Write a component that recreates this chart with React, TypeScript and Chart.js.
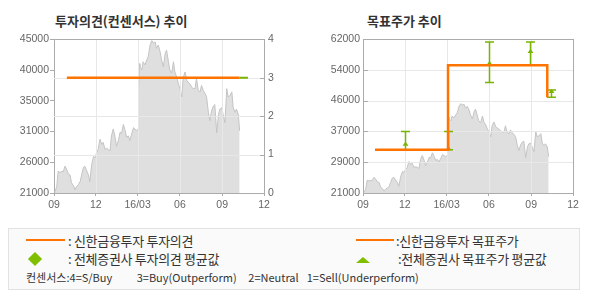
import React, { useEffect, useRef } from 'react';
import { Chart, registerables } from 'chart.js';

Chart.register(...registerables);

// ---- data ----
const monthTickDays = [0, 91, 182, 274, 366, 457];
const monthTickLabels = ['09', '12', '16/03', '06', '09', '12'];

const priceDays = [
  2, 6, 9, 13, 17, 20, 24, 28, 31, 35, 38, 42, 46, 49, 53, 57, 60, 64, 67, 71,
  75, 78, 82, 86, 89, 93, 96, 100, 104, 107, 111, 115, 118, 122, 125, 129, 133, 136, 140, 144,
  147, 151, 155, 158, 162, 165, 169, 173, 176, 180, 183, 184, 186, 187, 191, 194, 198, 202, 205, 209,
  213, 216, 220, 223, 227, 231, 234, 238, 242, 245, 249, 252, 256, 260, 263, 267, 271, 274, 278, 281,
  285, 289, 292, 296, 300, 303, 307, 310, 314, 318, 321, 325, 329, 332, 336, 339, 343, 347, 350, 354,
  358, 361, 365, 368, 372, 376, 379, 383, 387, 390, 394, 397, 401, 404,
];
const priceValues = [
  21200, 22000, 24400, 24200, 24400, 24300, 25200, 24600, 24000, 23800, 22600, 22200, 21500, 22000, 22300, 22800, 23800, 25000, 25200, 24500,
  23800, 22800, 25400, 26700, 26500, 27300, 27800, 29400, 28600, 28900, 27800, 28000, 27800, 27600, 29900, 31000, 29700, 28300, 29200, 30500,
  30300, 31700, 30700, 29700, 29900, 29200, 30200, 31200, 31000, 30700, 31000, 37000, 41200, 40700, 40200, 41500, 41000, 41800, 42300, 44100,
  44800, 44400, 44600, 43600, 44100, 43000, 41800, 40700, 42800, 43300, 41500, 40200, 39700, 41500, 39900, 39100, 38000, 37300, 36000, 38900,
  39900, 38600, 38300, 38000, 37500, 37300, 37300, 38900, 37000, 36800, 37800, 37000, 36500, 36000, 33600, 32300, 33800, 34600, 34800, 30400,
  33300, 34100, 34300, 33300, 32000, 37300, 36000, 36200, 36800, 34300, 33600, 34100, 33300, 30700,
];

const opinionDays = [28, 403];
const opinionValues = [3, 3];
const avgOpinionDays = [403, 422];
const avgOpinionValues = [3, 3];

const targetDays = [26, 185, 401];
const targetValues = [32500, 55000, 46500];

const consDays = [91, 184, 274, 363, 410];
const consHigh = [37400, 37400, 61200, 61200, 48400];
const consLow = [32500, 32500, 50400, 55000, 46500];
const consAvg = [34000, 32800, 55500, 58700, 48000];

const leftPriceTicks = [21000, 25800, 30600, 35400, 40200, 45000];
const leftPriceLabels = ['21000', '26000', '31000', '35000', '40000', '45000'];
const opinionTicks = [0, 1, 2, 3, 4];
const opinionLabels = ['0', '1', '2', '3', '4'];
const rightPriceTicks = [21000, 29200, 37400, 45600, 53800, 62000];
const rightPriceLabels = ['21000', '29000', '37000', '46000', '54000', '62000'];

// ---- styles ----
const ORANGE = '#ff7400';
const GREEN = '#78b400';
const AXIS = '#ababab';
const GRID = '#e8e8e8';
const TICK_FONT = { family: "'Liberation Sans', Arial, sans-serif", size: 10.5 };
const TICK_COLOR = '#666';
const KFONT = "'Noto Sans CJK KR', 'Noto Sans', sans-serif";

const overlayPlugin = {
  id: 'overlay',
  afterDatasetDraw(chart: any, args: any, opts: any) {
    if (args.index !== opts.areaIndex) return;
    const ctx = chart.ctx;
    const a = chart.chartArea;
    const xs = chart.scales.x;
    const gs = chart.scales[opts.gridAxis];
    ctx.save();
    ctx.strokeStyle = GRID;
    ctx.lineWidth = 1;
    ctx.beginPath();
    xs.ticks.forEach((t: any) => {
      const px = Math.round(xs.getPixelForValue(t.value)) + 0.5;
      if (px > a.left + 2 && px < a.right - 2) {
        ctx.moveTo(px, a.top);
        ctx.lineTo(px, a.bottom);
      }
    });
    gs.ticks.forEach((t: any) => {
      const py = Math.round(gs.getPixelForValue(t.value)) + 0.5;
      if (py > a.top + 2 && py < a.bottom - 2) {
        ctx.moveTo(a.left, py);
        ctx.lineTo(a.right, py);
      }
    });
    ctx.stroke();

    if (opts.errorBars) {
      const ys = chart.scales.y;
      ctx.strokeStyle = GREEN;
      ctx.fillStyle = GREEN;
      ctx.lineWidth = 1.5;
      consDays.forEach((d, i) => {
        const px = Math.round(xs.getPixelForValue(d)) + 0.5;
        const yh = ys.getPixelForValue(consHigh[i]);
        const yl = ys.getPixelForValue(consLow[i]);
        const ya = ys.getPixelForValue(consAvg[i]);
        ctx.beginPath();
        ctx.moveTo(px, yh);
        ctx.lineTo(px, yl);
        ctx.moveTo(px - 4.5, yh);
        ctx.lineTo(px + 4.5, yh);
        ctx.moveTo(px - 4.5, yl);
        ctx.lineTo(px + 4.5, yl);
        ctx.stroke();
        ctx.beginPath();
        ctx.moveTo(px, ya - 2.5);
        ctx.lineTo(px + 3, ya + 1.5);
        ctx.lineTo(px - 3, ya + 1.5);
        ctx.closePath();
        ctx.fill();
      });
    }
    ctx.restore();
  },
  afterDraw(chart: any, _args: any, opts: any) {
    const ctx = chart.ctx;
    const a = chart.chartArea;
    ctx.save();
    ctx.strokeStyle = AXIS;
    ctx.lineWidth = 1;
    ctx.beginPath();
    ctx.moveTo(a.left, Math.round(a.top) + 0.5);
    ctx.lineTo(a.right + 1, Math.round(a.top) + 0.5);
    if (opts.rightBorder) {
      ctx.moveTo(Math.round(a.right) + 0.5, a.top);
      ctx.lineTo(Math.round(a.right) + 0.5, a.bottom);
    }
    const ts = chart.scales[opts.gridAxis];
    ts.ticks.forEach((t: any) => {
      const py = Math.round(ts.getPixelForValue(t.value)) + 0.5;
      if (opts.innerTickSide === 'right') {
        ctx.moveTo(a.right - 4, py);
        ctx.lineTo(a.right, py);
      } else {
        ctx.moveTo(a.left, py);
        ctx.lineTo(a.left + 5, py);
      }
    });
    ctx.stroke();
    ctx.restore();
  },
};

function xScale() {
  return {
    type: 'linear',
    min: monthTickDays[0],
    max: monthTickDays[monthTickDays.length - 1],
    afterBuildTicks: (s: any) => {
      s.ticks = monthTickDays.map((v) => ({ value: v }));
    },
    afterFit: (s: any) => {
      s.height = 21;
    },
    ticks: {
      autoSkip: false,
      maxRotation: 0,
      padding: 3,
      font: TICK_FONT,
      color: TICK_COLOR,
      callback: (_v: any, i: number) => monthTickLabels[i],
    },
    grid: { drawOnChartArea: false, drawTicks: true, tickLength: 3, tickColor: AXIS },
    border: { color: AXIS },
  };
}

function toPoints(xs: number[], ys: number[]) {
  return xs.map((x, i) => ({ x, y: ys[i] }));
}

export default function App() {
  const leftRef = useRef<HTMLCanvasElement | null>(null);
  const rightRef = useRef<HTMLCanvasElement | null>(null);

  useEffect(() => {
    const left = new Chart(leftRef.current as HTMLCanvasElement, {
      type: 'line',
      data: {
        datasets: [
          {
            data: toPoints(opinionDays, opinionValues),
            yAxisID: 'y1',
            borderColor: ORANGE,
            borderWidth: 2.5,
            pointRadius: 0,
            fill: false,
          },
          {
            data: toPoints(avgOpinionDays, avgOpinionValues),
            yAxisID: 'y1',
            borderColor: GREEN,
            borderWidth: 2,
            pointRadius: 0,
            fill: false,
          },
          {
            data: toPoints(priceDays, priceValues),
            yAxisID: 'y',
            borderColor: '#c4c4c4',
            borderWidth: 1,
            backgroundColor: '#dfdfdf',
            fill: 'start',
            pointRadius: 0,
            tension: 0,
          },
        ],
      } as any,
      options: {
        animation: false,
        responsive: false,
        devicePixelRatio: 1,
        layout: { padding: { top: 10, left: 0, right: 0, bottom: 0 } },
        plugins: {
          legend: { display: false },
          tooltip: { enabled: false },
          overlay: { areaIndex: 2, gridAxis: 'y1', errorBars: false, rightBorder: false, innerTickSide: 'right' },
        } as any,
        scales: {
          x: xScale(),
          y: {
            type: 'linear',
            position: 'left',
            min: leftPriceTicks[0],
            max: leftPriceTicks[leftPriceTicks.length - 1],
            afterBuildTicks: (s: any) => {
              s.ticks = leftPriceTicks.map((v) => ({ value: v }));
            },
            afterFit: (s: any) => {
              s.width = 54;
            },
            ticks: { padding: 1, font: TICK_FONT, color: TICK_COLOR, callback: (_v: any, i: number) => leftPriceLabels[i] },
            grid: { drawOnChartArea: false, drawTicks: true, tickLength: 4, tickColor: AXIS },
            border: { color: AXIS },
          },
          y1: {
            type: 'linear',
            position: 'right',
            min: opinionTicks[0],
            max: opinionTicks[opinionTicks.length - 1],
            afterBuildTicks: (s: any) => {
              s.ticks = opinionTicks.map((v) => ({ value: v }));
            },
            afterFit: (s: any) => {
              s.width = 31;
            },
            ticks: { padding: 4, font: TICK_FONT, color: TICK_COLOR, callback: (_v: any, i: number) => opinionLabels[i] },
            grid: { drawOnChartArea: false, drawTicks: false },
            border: { color: AXIS },
          },
        } as any,
      },
      plugins: [overlayPlugin],
    });

    const right = new Chart(rightRef.current as HTMLCanvasElement, {
      type: 'line',
      data: {
        datasets: [
          {
            data: toPoints(targetDays, targetValues),
            yAxisID: 'y',
            borderColor: ORANGE,
            borderWidth: 2.5,
            pointRadius: 0,
            stepped: 'before',
            fill: false,
          },
          {
            data: toPoints(priceDays, priceValues),
            yAxisID: 'y',
            borderColor: '#c4c4c4',
            borderWidth: 1,
            backgroundColor: '#dfdfdf',
            fill: 'start',
            pointRadius: 0,
            tension: 0,
          },
        ],
      } as any,
      options: {
        animation: false,
        responsive: false,
        devicePixelRatio: 1,
        layout: { padding: { top: 10, left: 0, right: 17, bottom: 0 } },
        plugins: {
          legend: { display: false },
          tooltip: { enabled: false },
          overlay: { areaIndex: 1, gridAxis: 'y', errorBars: true, rightBorder: true, innerTickSide: 'left' },
        } as any,
        scales: {
          x: xScale(),
          y: {
            type: 'linear',
            position: 'left',
            min: rightPriceTicks[0],
            max: rightPriceTicks[rightPriceTicks.length - 1],
            afterBuildTicks: (s: any) => {
              s.ticks = rightPriceTicks.map((v) => ({ value: v }));
            },
            afterFit: (s: any) => {
              s.width = 68;
            },
            ticks: { padding: 3, font: TICK_FONT, color: TICK_COLOR, callback: (_v: any, i: number) => rightPriceLabels[i] },
            grid: { drawOnChartArea: false, drawTicks: false },
            border: { color: AXIS },
          },
        } as any,
      },
      plugins: [overlayPlugin],
    });

    return () => {
      left.destroy();
      right.destroy();
    };
  }, []);

  const txt = (left: number, top: number, text: string, size = 13, extra: any = {}) => (
    <div
      style={{
        position: 'absolute',
        left,
        top,
        fontFamily: KFONT,
        fontSize: size,
        lineHeight: '16px',
        color: '#333',
        whiteSpace: 'pre',
        letterSpacing: '-0.3px',
        ...extra,
      }}
    >
      {text}
    </div>
  );
  const small = { letterSpacing: '0px' };

  return (
    <div style={{ position: 'absolute', left: 0, top: 0, width: 590, height: 300, background: '#fff', overflow: 'hidden' }}>
      {txt(55, 13, '투자의견(컨센서스) 추이', 13, { fontWeight: 700, letterSpacing: '0px' })}
      {txt(367, 13, '목표주가 추이', 13, { fontWeight: 700, letterSpacing: '0px' })}
      <canvas
        ref={leftRef}
        width={295}
        height={185}
        style={{ position: 'absolute', left: 0, top: 29, width: 295, height: 185 }}
      />
      <canvas
        ref={rightRef}
        width={295}
        height={185}
        style={{ position: 'absolute', left: 295, top: 29, width: 295, height: 185 }}
      />
      <div
        style={{
          position: 'absolute',
          left: 8,
          top: 228,
          width: 570,
          height: 60,
          background: '#fafafa',
          border: '1px solid #e2e2e2',
        }}
      />
      <div style={{ position: 'absolute', left: 26, top: 239, width: 39, height: 2, background: ORANGE }} />
      {txt(68, 233, ': 신한금융투자 투자의견')}
      <div
        style={{
          position: 'absolute',
          left: 30,
          top: 253.5,
          width: 10,
          height: 10,
          background: '#7fbf00',
          transform: 'rotate(45deg)',
        }}
      />
      {txt(68, 251, ': 전체증권사 투자의견 평균값')}
      {txt(26, 269, '컨센서스:4=S/Buy', 11, small)}
      {txt(136.7, 269, '3=Buy(Outperform)', 11, small)}
      {txt(248.3, 269, '2=Neutral', 11, small)}
      {txt(306.7, 269, '1=Sell(Underperform)', 11, small)}
      <div style={{ position: 'absolute', left: 356, top: 238.5, width: 38, height: 2, background: ORANGE }} />
      {txt(396, 233, ':신한금융투자 목표주가')}
      <div
        style={{
          position: 'absolute',
          left: 356,
          top: 257,
          width: 0,
          height: 0,
          borderLeft: '7px solid transparent',
          borderRight: '7px solid transparent',
          borderBottom: '6px solid #7fbf00',
        }}
      />
      {txt(398, 251, ':전체증권사 목표주가 평균값')}
    </div>
  );
}
